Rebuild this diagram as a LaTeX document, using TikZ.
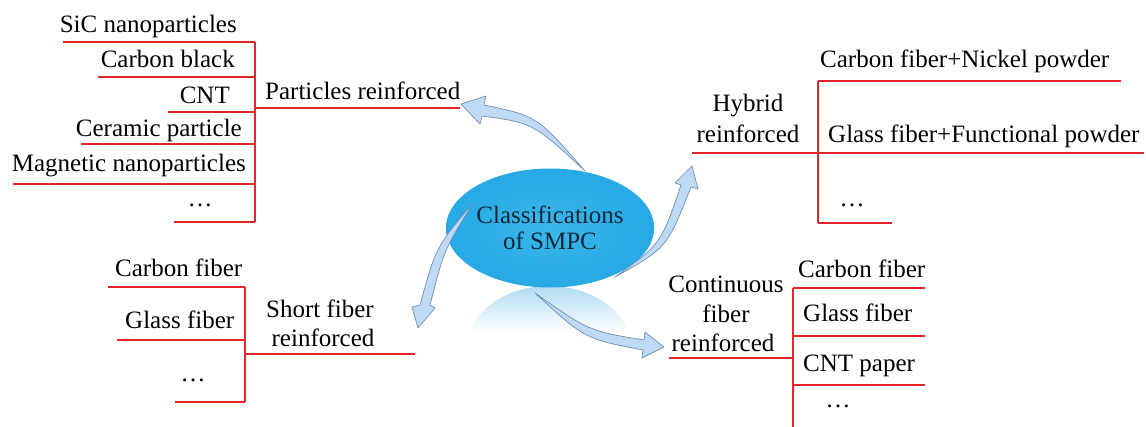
\documentclass[tikz,border=0pt]{standalone}
\usepackage{fontspec}
\setmainfont{Liberation Serif}
\usetikzlibrary{shapes.geometric,fadings}
\definecolor{rline}{HTML}{E3262B}
\definecolor{afill}{HTML}{BFDAF5}
\definecolor{aedge}{HTML}{7090B5}
\definecolor{einner}{HTML}{3AB7E9}
\definecolor{eouter}{HTML}{27A9E5}
\definecolor{etext}{HTML}{10263A}
\definecolor{refl}{HTML}{9FD4F0}
\tikzfading[name=reflfade, top color=transparent!20, bottom color=transparent!100]
\begin{document}
\begin{tikzpicture}[x=1pt,y=-1pt,
  lbl/.style={inner sep=0pt, font=\fontsize{25}{30}\selectfont, text=black},
  redline/.style={draw=rline, line width=1.6pt},
  barrow/.style={fill=afill, draw=aedge, line width=0.7pt, line join=round}]
\useasboundingbox (0,0) rectangle (1146,427);

% ---------- centre ellipse and reflection ----------
\begin{scope}
  \clip (549,348) ellipse (82pt and 62pt);
  \fill[refl, path fading=reflfade] (465,287) rectangle (635,332);
\end{scope}
\node[ellipse, minimum width=163pt, minimum height=119pt, inner sep=0pt,
      inner color=einner, outer color=eouter, text=etext, align=center,
      font=\fontsize{25}{27}\selectfont] (c) at (550,228) {Classifications\\[-1pt]of SMPC};

% ---------- arrows ----------
\path[barrow] (585,171) .. controls (537,116) .. (484,105) -- (486,96) -- (461,104)
  -- (480,124) -- (482,116) .. controls (533,123) .. (585,171) -- cycle;
\path[barrow] (615,277) .. controls (661,244) .. (681,185) -- (675,183) -- (692,166)
  -- (698,189) -- (691,187) .. controls (667,248) .. (615,277) -- cycle;
\path[barrow] (473,203) .. controls (436,247) .. (420,305) -- (412,307) -- (418,328)
  -- (435,308) -- (430,305) .. controls (444,250) .. (473,203) -- cycle;
\path[barrow] (535,293) .. controls (589,331) .. (644,340) -- (645,332) -- (664,347)
  -- (642,358) -- (643,350) .. controls (585,339) .. (535,293) -- cycle;

% ---------- particles reinforced ----------
\coordinate (pt) at (255,42);
\coordinate (pb) at (255,222);
\coordinate (pm) at (255,108);
\coordinate (pe) at (460,108);
\draw[redline] (pt) -- (pb);
\draw[redline] (pm) -- (pe);
\coordinate (p1) at (63,42);  \draw[redline] (p1) -- (pt);
\coordinate (p2) at (98,77);  \coordinate (p2r) at (255,77);  \draw[redline] (p2) -- (p2r);
\coordinate (p3) at (168,112);\coordinate (p3r) at (255,112); \draw[redline] (p3) -- (p3r);
\coordinate (p4) at (81,144); \coordinate (p4r) at (255,144); \draw[redline] (p4) -- (p4r);
\coordinate (p5) at (13,184); \coordinate (p5r) at (255,184); \draw[redline] (p5) -- (p5r);
\coordinate (p6) at (174,222); \draw[redline] (p6) -- (pb);
\node[lbl, anchor=base east] (t1) at (237,33) {SiC nanoparticles};
\node[lbl, anchor=base east] (t2) at (235,68) {Carbon black};
\node[lbl, anchor=base east] (t3) at (230,104) {CNT};
\node[lbl, anchor=base east] (t4) at (242,137) {Ceramic particle};
\node[lbl, anchor=base east] (t5) at (246,172) {Magnetic nanoparticles};
\node[lbl, anchor=base] (t6) at (200,207) {…};
\node[lbl, anchor=base west] (pr) at (265,100) {Particles reinforced};

% ---------- hybrid reinforced ----------
\coordinate (hl) at (692,153);
\coordinate (hr) at (1144,153);
\coordinate (ht) at (818,81);
\coordinate (hb) at (818,223);
\coordinate (htr) at (1121,81);
\coordinate (hbr) at (892,223);
\draw[redline] (hl) -- (hr);
\draw[redline] (ht) -- (hb);
\draw[redline] (ht) -- (htr);
\draw[redline] (hb) -- (hbr);
\node[lbl, anchor=base] (h1) at (748,112) {Hybrid};
\node[lbl, anchor=base] (h2) at (748,143) {reinforced};
\node[lbl, anchor=base west] (h3) at (820,68) {Carbon fiber+Nickel powder};
\node[lbl, anchor=base west] (h4) at (828,143) {Glass fiber+Functional powder};
\node[lbl, anchor=base] (h5) at (852,207) {…};

% ---------- short fiber reinforced ----------
\coordinate (st) at (245,287);
\coordinate (sb) at (245,402);
\coordinate (sm) at (245,354);
\coordinate (se) at (415,354);
\draw[redline] (st) -- (sb);
\draw[redline] (sm) -- (se);
\coordinate (s1) at (108,287); \draw[redline] (s1) -- (st);
\coordinate (s2) at (117,340); \coordinate (s2r) at (245,340); \draw[redline] (s2) -- (s2r);
\coordinate (s3) at (175,402); \draw[redline] (s3) -- (sb);
\node[lbl, anchor=base west] (u1) at (115,277) {Carbon fiber};
\node[lbl, anchor=base west] (u2) at (125,329) {Glass fiber};
\node[lbl, anchor=base] (u3) at (193,382) {…};
\node[lbl, anchor=base] (u4) at (320,318) {Short fiber};
\node[lbl, anchor=base] (u5) at (323,347) {reinforced};

% ---------- continuous fiber reinforced ----------
\coordinate (ct) at (793,288);
\coordinate (cb) at (793,427);
\coordinate (cm) at (793,358);
\coordinate (cl) at (669,358);
\draw[redline] (ct) -- (cb);
\draw[redline] (cl) -- (cm);
\coordinate (c1) at (925,288); \draw[redline] (ct) -- (c1);
\coordinate (c2l) at (793,336); \coordinate (c2) at (925,336); \draw[redline] (c2l) -- (c2);
\coordinate (c3l) at (793,385); \coordinate (c3) at (925,385); \draw[redline] (c3l) -- (c3);
\node[lbl, anchor=base] (v1) at (726,293) {Continuous};
\node[lbl, anchor=base] (v2) at (726,323) {fiber};
\node[lbl, anchor=base] (v3) at (723,352) {reinforced};
\node[lbl, anchor=base west] (v4) at (798,278) {Carbon fiber};
\node[lbl, anchor=base west] (v5) at (803,322) {Glass fiber};
\node[lbl, anchor=base west] (v6) at (803,372) {CNT paper};
\node[lbl, anchor=base] (v7) at (838,408) {…};
\end{tikzpicture}
\end{document}
